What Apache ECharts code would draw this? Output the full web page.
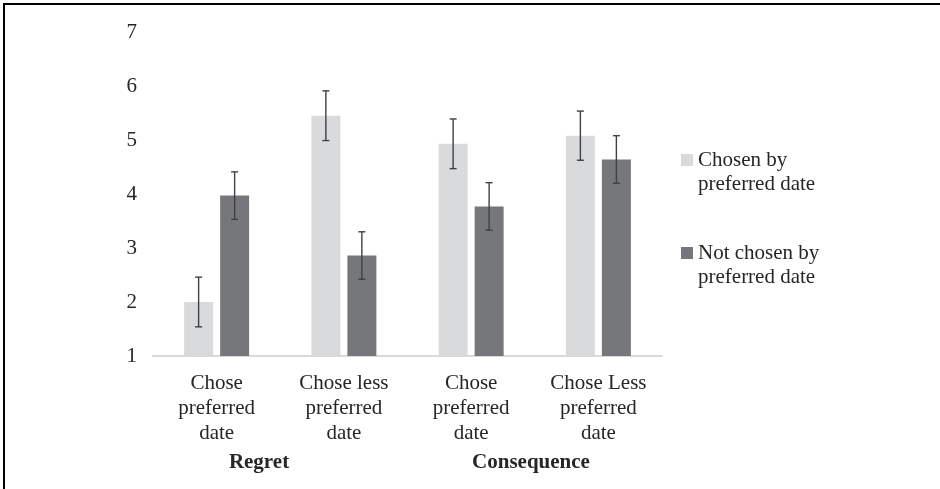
<!DOCTYPE html>
<html>
<head>
<meta charset="utf-8">
<script src="https://cdn.jsdelivr.net/npm/echarts@6/dist/echarts.min.js"></script>
<style>
html,body{margin:0;padding:0;background:#fff;}
#chart{width:940px;height:489px;}
</style>
</head>
<body>
<div id="chart"></div>
<script>
// ---- data ----
var categories = ['Chose\npreferred\ndate', 'Chose less\npreferred\ndate', 'Chose\npreferred\ndate', 'Chose Less\npreferred\ndate'];
var groupLabels = ['Regret', 'Consequence'];
var seriesNames = ['Chosen by preferred date', 'Not chosen by preferred date'];
var legendLines = [['Chosen by', 'preferred date'], ['Not chosen by', 'preferred date']];
var chosenValues = [2.00, 5.45, 4.93, 5.08];
var chosenErrors = [0.46, 0.46, 0.46, 0.455];
var notChosenValues = [3.97, 2.86, 3.77, 4.64];
var notChosenErrors = [0.44, 0.44, 0.44, 0.44];
var yTicks = [1, 2, 3, 4, 5, 6, 7];

// ---- styling ----
var FONT = "'Liberation Serif', Tinos, 'Times New Roman', 'Noto Serif', 'DejaVu Serif', serif";
var TEXT_COLOR = '#262626';
var LIGHT = '#d9dadc';
var DARK = '#76777a';
var BAR_W = 29;
var BAR_GAP_PX = 7;

function errData(vals, errs) {
  return vals.map(function (v, i) { return [i, v, errs[i]]; });
}

function errRenderer(sign) {
  return function (params, api) {
    var idx = api.value(0);
    var mean = api.value(1);
    var err = api.value(2);
    var off = sign * (BAR_W + BAR_GAP_PX) / 2;
    var top = api.coord([idx, mean + err]);
    var bot = api.coord([idx, mean - err]);
    var x = top[0] + off;
    var cap = 3.5;
    var st = { stroke: '#404040', lineWidth: 1.4 };
    return {
      type: 'group',
      children: [
        { type: 'line', shape: { x1: x, y1: top[1], x2: x, y2: bot[1] }, style: st },
        { type: 'line', shape: { x1: x - cap, y1: top[1], x2: x + cap, y2: top[1] }, style: st },
        { type: 'line', shape: { x1: x - cap, y1: bot[1], x2: x + cap, y2: bot[1] }, style: st }
      ]
    };
  };
}

var chart = echarts.init(document.getElementById('chart'), null, { renderer: 'canvas' });
var option = {
  animation: false,
  backgroundColor: '#fff',
  textStyle: { fontFamily: FONT },
  grid: { left: 153, right: 278, top: 32, bottom: 133 },
  legend: {
    data: seriesNames,
    orient: 'vertical',
    left: 676,
    top: 119,
    itemWidth: 12,
    itemHeight: 12,
    itemGap: 21,
    icon: 'rect',
    formatter: function (name) {
      var i = seriesNames.indexOf(name);
      // leading blank line keeps the marker level with the first text line
      return '\u00a0\n' + legendLines[i].join('\n');
    },
    textStyle: { fontFamily: FONT, fontSize: 21, color: TEXT_COLOR, lineHeight: 24 },
    selectedMode: false
  },
  xAxis: {
    type: 'category',
    data: categories,
    axisLine: { show: true, lineStyle: { color: '#d9d9d9', width: 2 } },
    axisTick: { show: false },
    axisLabel: { fontFamily: FONT, fontSize: 21, color: TEXT_COLOR, lineHeight: 25, margin: 15, interval: 0 }
  },
  yAxis: {
    type: 'value',
    min: yTicks[0],
    max: yTicks[yTicks.length - 1],
    interval: 1,
    axisLine: { show: false },
    axisTick: { show: false },
    splitLine: { show: false },
    axisLabel: { fontFamily: FONT, fontSize: 21, color: TEXT_COLOR, margin: 16 }
  },
  series: [
    {
      name: seriesNames[0], type: 'bar', data: chosenValues,
      barWidth: BAR_W, barGap: (BAR_GAP_PX / BAR_W * 100) + '%',
      itemStyle: { color: LIGHT }
    },
    {
      name: seriesNames[1], type: 'bar', data: notChosenValues,
      barWidth: BAR_W,
      itemStyle: { color: DARK }
    },
    {
      name: 'err1', type: 'custom', data: errData(chosenValues, chosenErrors),
      renderItem: errRenderer(-1), z: 10, encode: { x: 0, y: [1] }
    },
    {
      name: 'err2', type: 'custom', data: errData(notChosenValues, notChosenErrors),
      renderItem: errRenderer(1), z: 10, encode: { x: 0, y: [1] }
    }
  ],
  graphic: [
    {
      type: 'polyline', silent: true,
      shape: { points: [[4, 489], [4, 4], [940, 4]] },
      style: { stroke: '#000', lineWidth: 2, fill: null }
    },
    {
      type: 'text', x: 259, y: 463,
      style: { text: groupLabels[0], fontFamily: FONT, fontWeight: 'bold', fontSize: 21, fill: TEXT_COLOR, align: 'center', verticalAlign: 'middle' }
    },
    {
      type: 'text', x: 531, y: 463,
      style: { text: groupLabels[1], fontFamily: FONT, fontWeight: 'bold', fontSize: 21, fill: TEXT_COLOR, align: 'center', verticalAlign: 'middle' }
    }
  ]
};
chart.setOption(option);
</script>
</body>
</html>
